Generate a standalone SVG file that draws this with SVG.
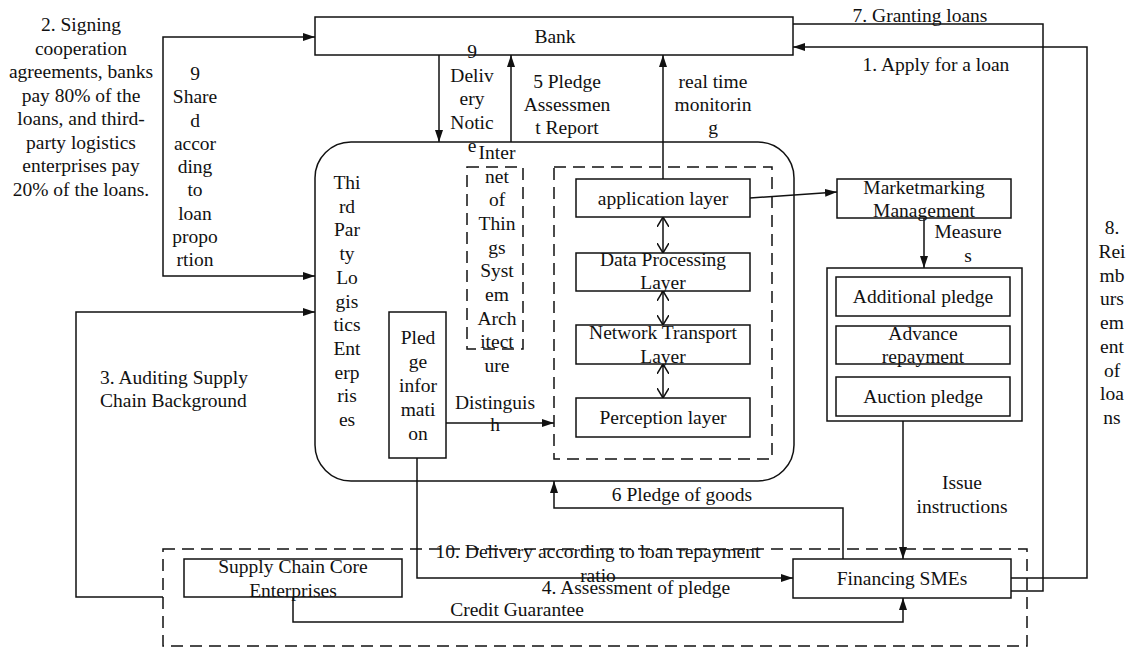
<svg xmlns="http://www.w3.org/2000/svg" width="1127" height="648" viewBox="0 0 1127 648">
<defs>
<style>
.t{font-family:'Liberation Serif','Times New Roman','DejaVu Serif','Noto Serif',serif;font-size:19.5px;fill:#111;text-anchor:middle}
.ts{font-family:'Liberation Serif','Times New Roman','DejaVu Serif','Noto Serif',serif;font-size:19.5px;fill:#111;text-anchor:start}
.b{fill:#fff;stroke:#111;stroke-width:1.5}
.d{fill:none;stroke:#111;stroke-width:1.5;stroke-dasharray:12 7}
.c{fill:none;stroke:#111;stroke-width:1.5}
</style>
<marker id="arr" viewBox="0 0 12 8" refX="12" refY="4" markerWidth="12" markerHeight="8" markerUnits="userSpaceOnUse" orient="auto-start-reverse">
<path d="M0,0 L12,4 L0,8 z" fill="#111"/>
</marker>
<marker id="chev" viewBox="0 0 10 12" refX="10" refY="6" markerWidth="10" markerHeight="12" markerUnits="userSpaceOnUse" orient="auto-start-reverse">
<path d="M0,0 L10,6 L0,12" fill="none" stroke="#111" stroke-width="1.5"/>
</marker>
</defs>
<rect width="1127" height="648" fill="#fff"/>

<g id="connectors">
<path class="c" d="M439,55 V142" marker-end="url(#arr)"/>
<path class="c" d="M511,142 V55" marker-end="url(#arr)"/>
<path class="c" d="M663,179 V55" marker-end="url(#arr)"/>
<path class="c" d="M315,37 H163 V276 H315" marker-start="url(#arr)" marker-end="url(#arr)"/>
<path class="c" d="M163,597 H76 V312 H315" marker-end="url(#arr)"/>
<path class="c" d="M446,423 H554" marker-end="url(#arr)"/>
<path class="c" d="M750,198 L837,192" marker-end="url(#arr)"/>
<path class="c" d="M924,218 V268" marker-end="url(#arr)"/>
<path class="c" d="M663,217 V253" marker-start="url(#chev)" marker-end="url(#chev)"/>
<path class="c" d="M663,291 V325" marker-start="url(#chev)" marker-end="url(#chev)"/>
<path class="c" d="M663,364 V398" marker-start="url(#chev)" marker-end="url(#chev)"/>
<path class="c" d="M903,421 V559" marker-end="url(#arr)"/>
<path class="c" d="M843,559 V508 H554 V481" marker-end="url(#arr)"/>
<path class="c" d="M417,458 V578 H793" marker-end="url(#arr)"/>
<path class="c" d="M293,597 V622 H903 V598" marker-end="url(#arr)"/>
<path class="c" d="M793,24 H1043 V591 H1011"/>
<path class="c" d="M1011,578 H1087 V47 H793" marker-end="url(#arr)"/>
</g>

<g id="bank">
<rect class="b" x="315" y="17" width="478" height="38"/>
<text class="t" x="555" y="43">Bank</text>
</g>

<g id="third-party-logistics">
<rect class="c" x="315" y="142" width="479" height="339" rx="36" ry="36"/>
<text class="t" x="347" y="189"><tspan x="347">Thi</tspan><tspan x="347" dy="23.7">rd</tspan><tspan x="347" dy="23.7">Par</tspan><tspan x="347" dy="23.7">ty</tspan><tspan x="347" dy="23.7">Lo</tspan><tspan x="347" dy="23.7">gis</tspan><tspan x="347" dy="23.7">tics</tspan><tspan x="347" dy="23.7">Ent</tspan><tspan x="347" dy="23.7">erp</tspan><tspan x="347" dy="23.7">ris</tspan><tspan x="347" dy="23.7">es</tspan></text>
</g>

<g id="iot-label">
<rect class="d" x="467" y="167" width="56" height="182"/>
<text class="t" x="497" y="159"><tspan x="497">Inter</tspan><tspan x="497" dy="23.67">net</tspan><tspan x="497" dy="23.67">of</tspan><tspan x="497" dy="23.67">Thin</tspan><tspan x="497" dy="23.67">gs</tspan><tspan x="497" dy="23.67">Syst</tspan><tspan x="497" dy="23.67">em</tspan><tspan x="497" dy="23.67">Arch</tspan><tspan x="497" dy="23.67">itect</tspan><tspan x="497" dy="23.67">ure</tspan></text>
</g>

<g id="pledge-information">
<rect class="b" x="389" y="312" width="57" height="146"/>
<text class="t" x="418" y="344"><tspan x="418">Pled</tspan><tspan x="418" dy="24">ge</tspan><tspan x="418" dy="24">infor</tspan><tspan x="418" dy="24">mati</tspan><tspan x="418" dy="24">on</tspan></text>
</g>

<g id="iot-architecture">
<rect class="d" x="554" y="167" width="218" height="292"/>
</g>

<g id="application-layer">
<rect class="b" x="576" y="179" width="174" height="38"/>
<text class="t" x="663" y="205">application layer</text>
</g>

<g id="data-processing-layer">
<rect class="b" x="576" y="253" width="174" height="38"/>
<text class="t" x="663" y="266"><tspan x="663">Data Processing</tspan><tspan x="663" dy="23">Layer</tspan></text>
</g>

<g id="network-transport-layer">
<rect class="b" x="576" y="325" width="174" height="39"/>
<text class="t" x="663" y="339"><tspan x="663">Network Transport</tspan><tspan x="663" dy="23.5">Layer</tspan></text>
</g>

<g id="perception-layer">
<rect class="b" x="576" y="398" width="174" height="39"/>
<text class="t" x="663" y="424">Perception layer</text>
</g>

<g id="marketmarking-management">
<rect class="b" x="837" y="179" width="174" height="39"/>
<text class="t" x="924" y="194"><tspan x="924">Marketmarking</tspan><tspan x="924" dy="23">Management</tspan></text>
</g>

<g id="measures">
<rect class="b" x="827" y="268" width="195" height="153"/>
</g>

<g id="additional-pledge">
<rect class="b" x="836" y="277" width="174" height="39"/>
<text class="t" x="923" y="303">Additional pledge</text>
</g>

<g id="advance-repayment">
<rect class="b" x="836" y="326" width="174" height="38"/>
<text class="t" x="923" y="340"><tspan x="923">Advance</tspan><tspan x="923" dy="23">repayment</tspan></text>
</g>

<g id="auction-pledge">
<rect class="b" x="836" y="377" width="174" height="39"/>
<text class="t" x="923" y="403">Auction pledge</text>
</g>

<g id="sme-group">
<rect class="d" x="163" y="549" width="864" height="97"/>
</g>

<g id="supply-chain-core">
<rect class="b" x="184" y="559" width="218" height="38"/>
<text class="t" x="293" y="573"><tspan x="293">Supply Chain Core</tspan><tspan x="293" dy="24">Enterprises</tspan></text>
</g>

<g id="financing-smes">
<rect class="b" x="793" y="559" width="218" height="39"/>
<text class="t" x="902" y="585">Financing SMEs</text>
</g>

<g id="labels">
<text class="t" x="81" y="31"><tspan x="81">2. Signing</tspan><tspan x="81" dy="23.5">cooperation</tspan><tspan x="81" dy="23.5">agreements, banks</tspan><tspan x="81" dy="23.5">pay 80% of the</tspan><tspan x="81" dy="23.5">loans, and third-</tspan><tspan x="81" dy="23.5">party logistics</tspan><tspan x="81" dy="23.5">enterprises pay</tspan><tspan x="81" dy="23.5">20% of the loans.</tspan></text>
<text class="t" x="195" y="80"><tspan x="195">9</tspan><tspan x="195" dy="23.25">Share</tspan><tspan x="195" dy="23.25">d</tspan><tspan x="195" dy="23.25">accor</tspan><tspan x="195" dy="23.25">ding</tspan><tspan x="195" dy="23.25">to</tspan><tspan x="195" dy="23.25">loan</tspan><tspan x="195" dy="23.25">propo</tspan><tspan x="195" dy="23.25">rtion</tspan></text>
<text class="t" x="472" y="58"><tspan x="472">9</tspan><tspan x="472" dy="23.5">Deliv</tspan><tspan x="472" dy="23.5">ery</tspan><tspan x="472" dy="23.5">Notic</tspan><tspan x="472" dy="23.5">e</tspan></text>
<text class="t" x="567" y="88"><tspan x="567">5 Pledge</tspan><tspan x="567" dy="23">Assessmen</tspan><tspan x="567" dy="23">t Report</tspan></text>
<text class="t" x="713" y="88"><tspan x="713">real time</tspan><tspan x="713" dy="23">monitorin</tspan><tspan x="713" dy="23">g</tspan></text>
<text class="t" x="920" y="22">7. Granting loans</text>
<text class="t" x="936" y="71">1. Apply for a loan</text>
<text class="t" x="1112" y="234"><tspan x="1112">8.</tspan><tspan x="1112" dy="23.75">Rei</tspan><tspan x="1112" dy="23.75">mb</tspan><tspan x="1112" dy="23.75">urs</tspan><tspan x="1112" dy="23.75">em</tspan><tspan x="1112" dy="23.75">ent</tspan><tspan x="1112" dy="23.75">of</tspan><tspan x="1112" dy="23.75">loa</tspan><tspan x="1112" dy="23.75">ns</tspan></text>
<text class="t" x="968" y="238"><tspan x="968">Measure</tspan><tspan x="968" dy="24">s</tspan></text>
<text class="ts" x="100" y="384"><tspan x="100">3. Auditing Supply</tspan><tspan x="100" dy="23">Chain Background</tspan></text>
<text class="t" x="495" y="409"><tspan x="495">Distinguis</tspan><tspan x="495" dy="22">h</tspan></text>
<text class="t" x="962" y="489"><tspan x="962">Issue</tspan><tspan x="962" dy="24">instructions</tspan></text>
<text class="t" x="682" y="501">6 Pledge of goods</text>
<text class="t" x="598" y="558"><tspan x="598">10. Delivery according to loan repayment</tspan><tspan x="598" dy="24">ratio</tspan></text>
<text class="t" x="636" y="594">4. Assessment of pledge</text>
<text class="t" x="517" y="616">Credit Guarantee</text>
</g>
</svg>
